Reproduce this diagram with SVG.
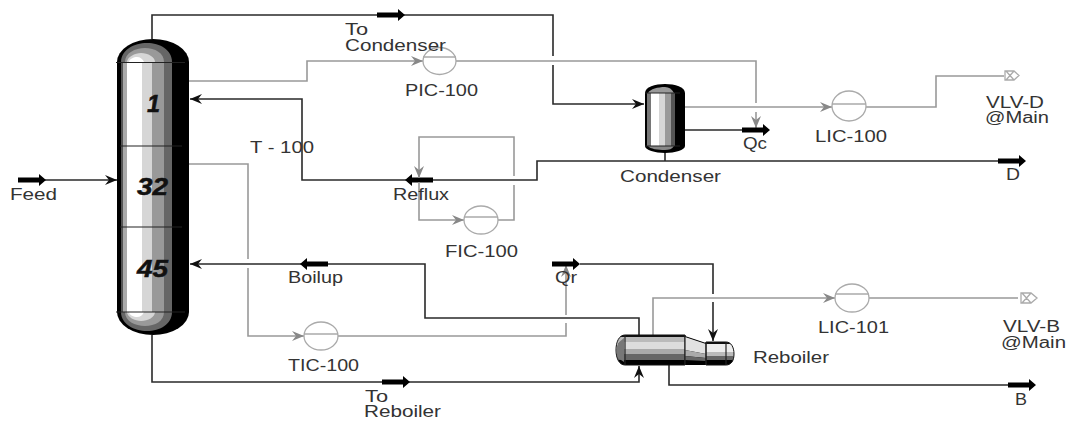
<svg xmlns="http://www.w3.org/2000/svg" width="1074" height="423" viewBox="0 0 1074 423">
<style>
text{font-family:"Liberation Sans",Arial,sans-serif;font-size:16px;fill:#333}
.num{font-size:24px;font-weight:bold;font-style:italic;fill:#111;stroke:#111;stroke-width:.5}
.k{fill:none;stroke:#2a2a2a;stroke-width:1.6}
.g{fill:none;stroke:#999;stroke-width:1.6}
.ka{marker-end:url(#headK)}
.ga{marker-end:url(#headG)}
.ctl{fill:#fff;stroke:#aaa;stroke-width:1.3}
.chord{stroke:#aaa;stroke-width:1.3}
.edge{stroke:#222;stroke-width:1.2}
</style>
<defs>
<marker id="headK" markerUnits="userSpaceOnUse" markerWidth="14" markerHeight="12" refX="13" refY="6" orient="auto"><path d="M1,1 L13,6 L1,11 L5,6 Z" fill="#111"/></marker>
<marker id="headG" markerUnits="userSpaceOnUse" markerWidth="14" markerHeight="12" refX="13" refY="6" orient="auto"><path d="M1,1 L13,6 L1,11 L5,6 Z" fill="#888"/></marker>
<path id="bold" d="M0,-2.5 H21 V-6 L28,0 L21,6 V2.5 H0 Z" fill="#000"/>
<linearGradient id="colBands" gradientUnits="userSpaceOnUse" x1="117" x2="189" y1="0" y2="0">
<stop offset="0" stop-color="#000"/><stop offset=".05" stop-color="#000"/><stop offset=".05" stop-color="#555"/><stop offset=".09" stop-color="#555"/><stop offset=".09" stop-color="#aaa"/><stop offset=".14" stop-color="#aaa"/><stop offset=".14" stop-color="#fff"/><stop offset=".35" stop-color="#fff"/><stop offset=".35" stop-color="#d6d6d6"/><stop offset=".49" stop-color="#d6d6d6"/><stop offset=".49" stop-color="#999"/><stop offset=".65" stop-color="#999"/><stop offset=".65" stop-color="#666"/><stop offset=".76" stop-color="#666"/><stop offset=".76" stop-color="#000"/><stop offset="1" stop-color="#000"/>
</linearGradient>
<linearGradient id="condBands" gradientUnits="userSpaceOnUse" x1="645" x2="685" y1="0" y2="0">
<stop offset="0" stop-color="#000"/><stop offset=".06" stop-color="#000"/><stop offset=".06" stop-color="#777"/><stop offset=".14" stop-color="#777"/><stop offset=".14" stop-color="#fff"/><stop offset=".34" stop-color="#fff"/><stop offset=".34" stop-color="#d6d6d6"/><stop offset=".5" stop-color="#d6d6d6"/><stop offset=".5" stop-color="#999"/><stop offset=".66" stop-color="#999"/><stop offset=".66" stop-color="#555"/><stop offset=".76" stop-color="#555"/><stop offset=".76" stop-color="#000"/><stop offset="1" stop-color="#000"/>
</linearGradient>
<linearGradient id="rebBands" gradientUnits="userSpaceOnUse" x1="0" x2="0" y1="335" y2="365">
<stop offset="0" stop-color="#111"/><stop offset=".07" stop-color="#111"/><stop offset=".07" stop-color="#bbb"/><stop offset=".22" stop-color="#bbb"/><stop offset=".22" stop-color="#ddd"/><stop offset=".48" stop-color="#ddd"/><stop offset=".48" stop-color="#aaa"/><stop offset=".65" stop-color="#aaa"/><stop offset=".65" stop-color="#666"/><stop offset=".82" stop-color="#666"/><stop offset=".82" stop-color="#000"/><stop offset="1" stop-color="#000"/>
</linearGradient>
<linearGradient id="rebSmall" gradientUnits="userSpaceOnUse" x1="0" x2="0" y1="342" y2="365">
<stop offset="0" stop-color="#111"/><stop offset=".08" stop-color="#111"/><stop offset=".08" stop-color="#eee"/><stop offset=".45" stop-color="#eee"/><stop offset=".45" stop-color="#bbb"/><stop offset=".62" stop-color="#bbb"/><stop offset=".62" stop-color="#666"/><stop offset=".78" stop-color="#666"/><stop offset=".78" stop-color="#000"/><stop offset="1" stop-color="#000"/>
</linearGradient>
</defs>

<g id="connectors">
<polyline class="k" points="152,39 152,15 553,15 553,56"/>
<polyline class="k ka" points="553,65 553,104 644,104"/>
<use href="#bold" x="377" y="15"/>
<polyline class="g ga" points="189,81 307,81 307,61 423,61"/>
<polyline class="g" points="456,61 756,61 756,103"/>
<polyline class="g ga" points="756,112 756,128"/>
<polyline class="g ga" points="685,107 832,107"/>
<polyline class="g" points="866,107 936,107 936,76 1004,76"/>
<polyline class="k" points="665,153 665,161"/>
<polyline class="k ka" points="1000,161 537,161 537,180 302,180 302,99 190,99"/>
<use href="#bold" x="998" y="161"/>
<use href="#bold" transform="translate(433,180) rotate(180)"/>
<polyline class="k" points="685,130 744,130"/>
<use href="#bold" x="742" y="130"/>
<polyline class="k ka" points="45,180 117,180"/>
<use href="#bold" x="18" y="180"/>
<polyline class="g" points="514,185 514,220 498,220"/>
<polyline class="g ga" points="514,176 514,137 419,137 419,178"/>
<polyline class="g ga" points="419,182 419,220 464,220"/>
<polyline class="g" points="189,164 248,164 248,259"/>
<polyline class="g ga" points="248,268 248,336 304,336"/>
<polyline class="g" points="338,336 566,336 566,323"/>
<polyline class="g ga" points="566,315 566,265"/>
<polyline class="k ka" points="639,335 639,318 425,318 425,264 190,264"/>
<use href="#bold" transform="translate(328,264) rotate(180)"/>
<polyline class="k" points="580,264 713,264 713,294"/>
<polyline class="k ka" points="713,302 713,341"/>
<use href="#bold" x="552" y="264"/>
<polyline class="k ka" points="152,335 152,382 639,382 639,366"/>
<use href="#bold" x="382" y="382"/>
<polyline class="g ga" points="653,335 653,298 835,298"/>
<polyline class="g" points="869,298 1018,298"/>
<polyline class="k" points="669,365 669,385 1010,385"/>
<use href="#bold" x="1008" y="385"/>
</g>

<g id="column">
<path d="M117,62 A36,23 0 0 1 189,62 V312 A36,23 0 0 1 117,312 Z" fill="#000"/>
<path d="M121,62 C121,50 134,43 147,43 C160,43 172,50 172,62 Z" fill="#666"/>
<path d="M125,62 C125,53 135,48 145,48 C155,48 164,53 164,62 Z" fill="#999"/>
<path d="M127,62 C127,57 135,53 141,53 C148,53 155,57 155,62 Z" fill="#d6d6d6"/>
<path d="M129,62 C129,59 134,57 137,57 C140,57 143,59 144,62 Z" fill="#fff"/>
<rect x="117" y="62" width="72" height="250" fill="url(#colBands)"/>
<path d="M121,312 C121,324 134,331 147,331 C160,331 172,324 172,312 Z" fill="#666"/>
<path d="M125,312 C125,321 135,326 145,326 C155,326 164,321 164,312 Z" fill="#999"/>
<path d="M127,312 C127,317 135,321 141,321 C148,321 155,317 155,312 Z" fill="#d6d6d6"/>
<path d="M129,312 C129,315 134,317 137,317 C140,317 143,315 144,312 Z" fill="#fff"/>
<line class="edge" x1="116" y1="62.5" x2="185" y2="62.5"/>
<line class="edge" x1="116" y1="312" x2="185" y2="312"/>
<line class="edge" x1="120" y1="146" x2="182" y2="146"/>
<line class="edge" x1="120" y1="227" x2="182" y2="227"/>
<text class="num" x="147" y="112" textLength="13" lengthAdjust="spacingAndGlyphs">1</text>
<text class="num" x="137" y="195" textLength="31" lengthAdjust="spacingAndGlyphs">32</text>
<text class="num" x="137" y="277" textLength="31" lengthAdjust="spacingAndGlyphs">45</text>
</g>

<g id="condenser-unit">
<path d="M645,93 C645,87 655,84 665,84 C675,84 685,87 685,93 V146 C685,150 675,153 665,153 C655,153 645,150 645,146 Z" fill="#000"/>
<path d="M648,93 C650,89 658,87 665,87 C669,87 672,89 674,93 Z" fill="#999"/>
<rect x="645" y="93" width="40" height="53" fill="url(#condBands)"/>
<path d="M648,146 C650,149 658,150 665,150 C669,150 672,149 674,146 Z" fill="#888"/>
<line class="edge" x1="645" y1="93" x2="680" y2="93"/>
<line class="edge" x1="645" y1="146" x2="680" y2="146"/>
</g>

<g id="reboiler-unit">
<path d="M625,335 H685 V365 H625 C619,365 616,358 616,350 C616,342 619,335 625,335 Z" fill="url(#rebBands)" stroke="#111" stroke-width="1"/>
<path d="M685,336 L706,343 V365 H685 Z" fill="#000"/>
<path d="M685,337 L706,344 V354 L685,350 Z" fill="#e2e2e2"/>
<path d="M685,350 L706,354 V358 L685,356 Z" fill="#aaa"/>
<path d="M685,356 L706,358 V361 L685,360 Z" fill="#666"/>
<path d="M706,342 H726 C731,342 734,347 734,354 C734,361 731,365 726,365 H706 Z" fill="url(#rebSmall)" stroke="#111" stroke-width="1"/>
<path d="M618,343 C616,348 616,354 618,358 L624,362 V338 Z" fill="#777"/>
<line class="edge" x1="625" y1="335" x2="625" y2="365"/>
<line class="edge" x1="685" y1="335" x2="685" y2="365"/>
<line class="edge" x1="706" y1="342" x2="706" y2="365"/>
<line class="edge" x1="726" y1="342" x2="726" y2="365"/>
</g>

<g id="pic-100"><ellipse class="ctl" cx="439.5" cy="61" rx="16.5" ry="13.5"/><line class="chord" x1="423" y1="57" x2="456" y2="57"/></g>
<g id="fic-100"><ellipse class="ctl" cx="481" cy="220" rx="17" ry="14"/><line class="chord" x1="464" y1="217" x2="498" y2="217"/></g>
<g id="tic-100"><ellipse class="ctl" cx="321" cy="336" rx="17" ry="14"/><line class="chord" x1="304" y1="334" x2="338" y2="334"/></g>
<g id="lic-100"><ellipse class="ctl" cx="849" cy="106" rx="17" ry="15"/><line class="chord" x1="832" y1="104" x2="866" y2="104"/></g>
<g id="lic-101"><ellipse class="ctl" cx="852" cy="298" rx="17" ry="14"/><line class="chord" x1="835" y1="294" x2="869" y2="294"/></g>
<g id="vlv-d"><path class="ctl" d="M1005,71 H1014 L1019,75.5 L1014,80 H1005 Z M1006,71 L1014,80 M1014,71 L1006,80"/></g>
<g id="vlv-b"><path class="ctl" d="M1021,293 H1031 L1037,298 L1031,303 H1021 Z M1022,293 L1031,303 M1031,293 L1022,303"/></g>

<g id="labels">
<text x="10" y="200" textLength="47" lengthAdjust="spacingAndGlyphs">Feed</text>
<text x="250" y="153" textLength="64" lengthAdjust="spacingAndGlyphs">T - 100</text>
<text x="345" y="35" textLength="23" lengthAdjust="spacingAndGlyphs">To</text>
<text x="345" y="51" textLength="101" lengthAdjust="spacingAndGlyphs">Condenser</text>
<text x="405" y="96" textLength="73" lengthAdjust="spacingAndGlyphs">PIC-100</text>
<text x="393" y="200" textLength="56" lengthAdjust="spacingAndGlyphs">Reflux</text>
<text x="445" y="257" textLength="73" lengthAdjust="spacingAndGlyphs">FIC-100</text>
<text x="288" y="283" textLength="55" lengthAdjust="spacingAndGlyphs">Boilup</text>
<text x="288" y="371" textLength="71" lengthAdjust="spacingAndGlyphs">TIC-100</text>
<text x="365" y="402" textLength="23" lengthAdjust="spacingAndGlyphs">To</text>
<text x="364" y="417" textLength="77" lengthAdjust="spacingAndGlyphs">Reboiler</text>
<text x="555" y="283" textLength="22" lengthAdjust="spacingAndGlyphs">Qr</text>
<text x="753" y="363" textLength="76" lengthAdjust="spacingAndGlyphs">Reboiler</text>
<text x="620" y="182" textLength="101" lengthAdjust="spacingAndGlyphs">Condenser</text>
<text x="743" y="149" textLength="24" lengthAdjust="spacingAndGlyphs">Qc</text>
<text x="815" y="142" textLength="72" lengthAdjust="spacingAndGlyphs">LIC-100</text>
<text x="818" y="333" textLength="71" lengthAdjust="spacingAndGlyphs">LIC-101</text>
<text x="986" y="108" textLength="58" lengthAdjust="spacingAndGlyphs">VLV-D</text>
<text x="985" y="123" textLength="64" lengthAdjust="spacingAndGlyphs">@Main</text>
<text x="1003" y="332" textLength="57" lengthAdjust="spacingAndGlyphs">VLV-B</text>
<text x="1001" y="348" textLength="65" lengthAdjust="spacingAndGlyphs">@Main</text>
<text x="1006" y="180" textLength="14" lengthAdjust="spacingAndGlyphs">D</text>
<text x="1015" y="405" textLength="12" lengthAdjust="spacingAndGlyphs">B</text>
</g>
</svg>
